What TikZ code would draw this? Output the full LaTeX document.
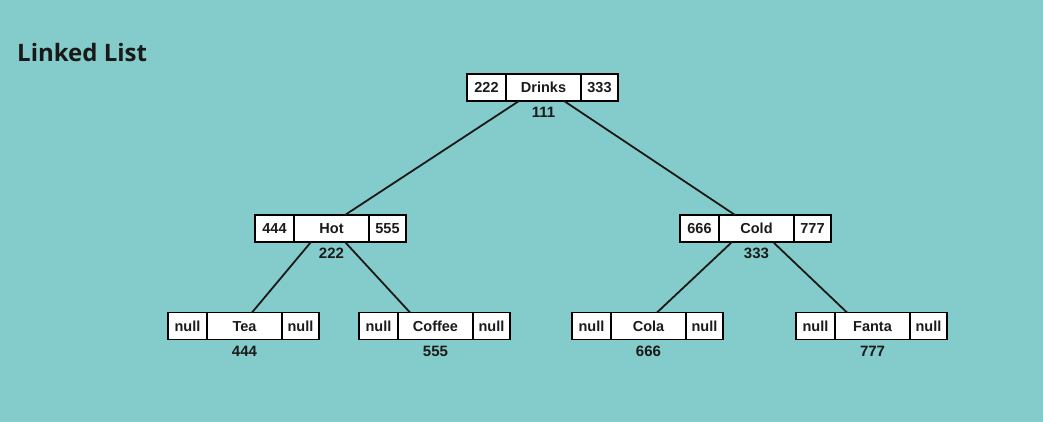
\documentclass[tikz,border=0pt]{standalone}
\usepackage{fontspec}
\setmainfont{Liberation Sans}
\newfontfamily\titlefont{Open Sans}
\usetikzlibrary{positioning}
\definecolor{bgteal}{HTML}{84CCCB}
\definecolor{inkdark}{HTML}{1A1A1A}

% one record: left pointer, value, right pointer, address below
\newcommand{\recnode}[7]{%
  \node[cell, minimum width=39pt, anchor=west] (#1L) at (#2,#3) {#4};
  \node[cell, minimum width=75pt, right=0pt of #1L] (#1) {#5};
  \node[cell, minimum width=37pt, right=0pt of #1] (#1R) {#6};
  \node[addr, below=6pt of #1] (#1A) {#7};
}

\begin{document}
\begin{tikzpicture}[x=1pt, y=-1pt,
  cell/.style={draw=black, fill=white, line width=1.8pt, outer sep=0pt,
    minimum height=27pt, inner sep=0pt, text height=10.4pt, text depth=0pt,
    font=\bfseries\fontsize{14.5}{16}\selectfont, text=inkdark},
  addr/.style={inner sep=0pt, font=\bfseries\fontsize{15}{17}\selectfont, text=inkdark},
  link/.style={line width=1.8pt, draw=black!90}]
\fill[bgteal] (0,0) rectangle (1043,422);
\useasboundingbox (0,0) rectangle (1043,422);

\node[anchor=west, inner sep=0pt, text=black!90,
  font=\titlefont\bfseries\fontsize{24}{27}\selectfont] (title) at (17,53) {Linked List};

\recnode{d}{467}{87.5}{222}{Drinks}{333}{111}
\recnode{h}{255}{228.5}{444}{Hot}{555}{222}
\recnode{c}{680}{228.5}{666}{Cold}{777}{333}
\recnode{t}{168}{326}{null}{Tea}{null}{444}
\recnode{f}{359}{326}{null}{Coffee}{null}{555}
\recnode{k}{572}{326}{null}{Cola}{null}{666}
\recnode{a}{796}{326}{null}{Fanta}{null}{777}

\draw[link] ([xshift=13pt]d.south west) -- ([xshift=51pt]h.north west);
\draw[link] ([xshift=-17pt]d.south east) -- ([xshift=16pt]c.north west);
\draw[link] ([xshift=17pt]h.south west) -- ([xshift=45pt]t.north west);
\draw[link] ([xshift=51pt]h.south west) -- ([xshift=12pt]f.north west);
\draw[link] ([xshift=13pt]c.south west) -- ([xshift=46pt]k.north west);
\draw[link] ([xshift=54pt]c.south west) -- ([xshift=12pt]a.north west);
\end{tikzpicture}
\end{document}
